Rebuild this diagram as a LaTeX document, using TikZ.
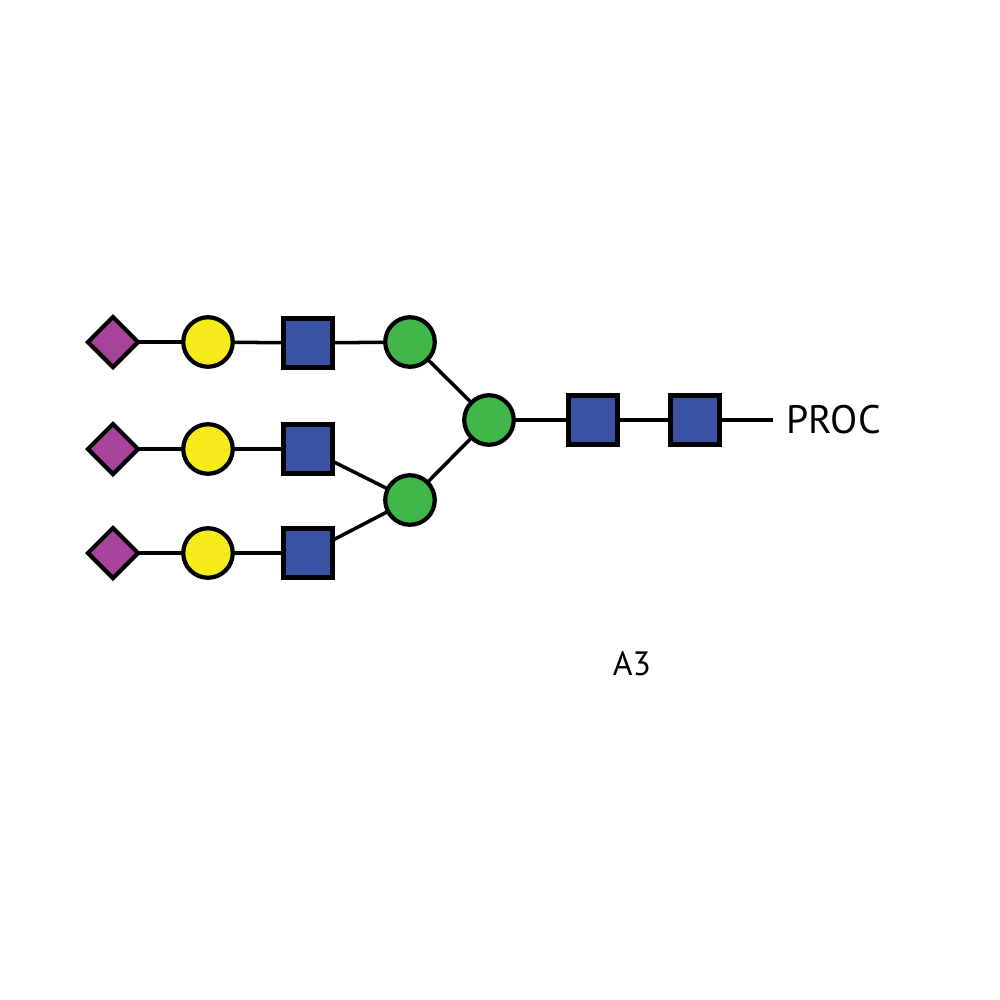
\documentclass[tikz,border=0pt]{standalone}
\usepackage{fontspec}
\setmainfont{PT Sans}
\usetikzlibrary{shapes.geometric}
\definecolor{neu}{HTML}{A5449A}
\definecolor{gal}{HTML}{F6EB1A}
\definecolor{glcnac}{HTML}{3B53A5}
\definecolor{man}{HTML}{41B649}
\tikzset{
  sym/.style={draw=black, line width=1.2pt, inner sep=0pt, outer sep=0pt},
  sq/.style={sym, rectangle, fill=glcnac, minimum size=0.49cm},
  ci/.style={sym, circle, fill=#1, minimum size=0.495cm},
  dia/.style={sym, diamond, fill=neu, minimum size=0.50cm},
  link/.style={draw=black, line width=1pt},
  lab/.style={font=\fontsize{11.3pt}{13pt}\selectfont, inner sep=0pt, anchor=west}
}
\begin{document}
\begin{tikzpicture}[x=0.01cm, y=-0.01cm]
\useasboundingbox[fill=white] (0,0) rectangle (1000,1000);
% row 1
\node[dia] (d1) at (113,342) {};
\node[ci=gal] (g1) at (208,342) {};
\node[sq] (s1) at (308,343) {};
\node[ci=man] (m1) at (410,342) {};
% row 2
\node[dia] (d2) at (113,449) {};
\node[ci=gal] (g2) at (208,449) {};
\node[sq] (s2) at (308,449) {};
% row 3
\node[dia] (d3) at (113,553) {};
\node[ci=gal] (g3) at (208,553) {};
\node[sq] (s3) at (308,553) {};
% core
\node[ci=man] (m2) at (410,500) {};
\node[ci=man] (m0) at (489,420) {};
\node[sq] (c1) at (593,420) {};
\node[sq] (c2) at (695,420) {};
\coordinate (end) at (773,420);
\node[lab] (proc) at (786,420) {PROC};
\node[font=\fontsize{9.6pt}{11pt}\selectfont, inner sep=0pt] (a3) at (632,664) {A3};
% links
\draw[link] (d1) -- (g1); \draw[link] (g1) -- (s1); \draw[link] (s1) -- (m1);
\draw[link] (d2) -- (g2); \draw[link] (g2) -- (s2); \draw[link] (s2) -- (m2);
\draw[link] (d3) -- (g3); \draw[link] (g3) -- (s3); \draw[link] (s3) -- (m2);
\draw[link] (m1) -- (m0); \draw[link] (m2) -- (m0);
\draw[link] (m0) -- (c1); \draw[link] (c1) -- (c2); \draw[link] (c2) -- (end);
\end{tikzpicture}
\end{document}
